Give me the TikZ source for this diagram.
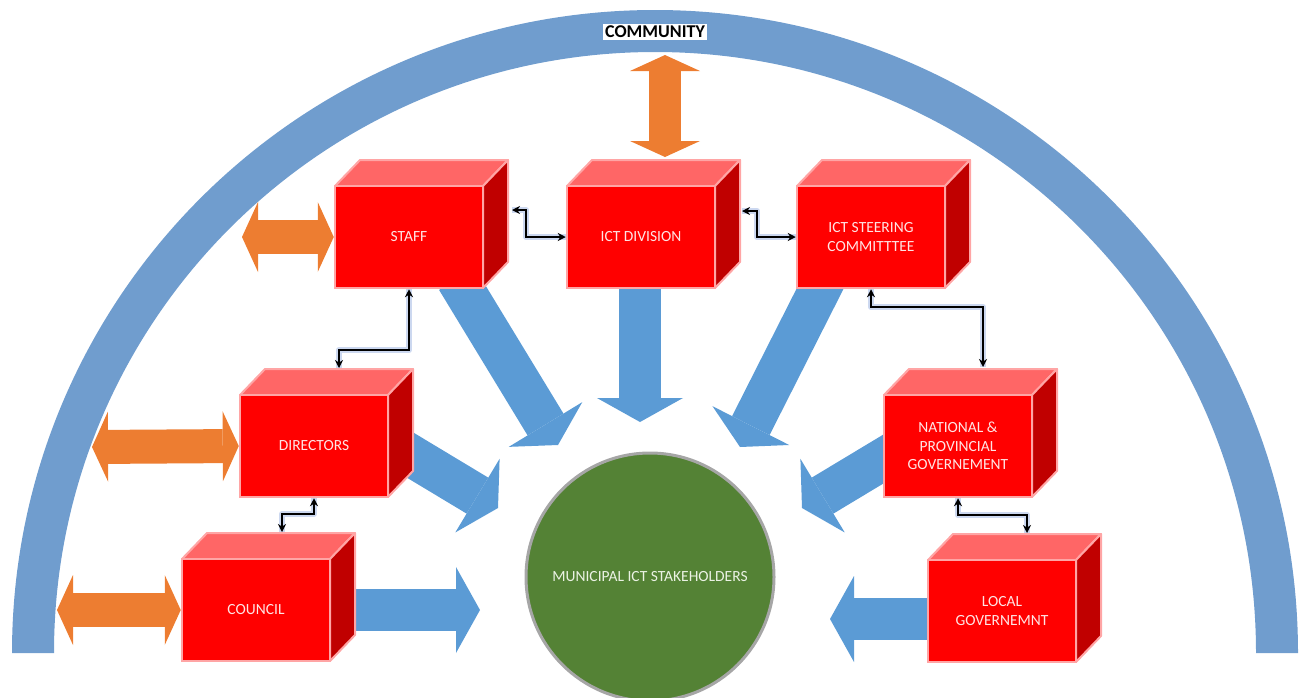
\documentclass[tikz,border=0pt]{standalone}
\usepackage{fontspec}
\setmainfont{Carlito}
\usetikzlibrary{arrows.meta,calc}
\definecolor{arcblue}{RGB}{112,157,206}
\definecolor{fatblue}{RGB}{91,155,213}
\definecolor{orangeA}{RGB}{237,125,49}
\definecolor{boxfront}{RGB}{255,0,0}
\definecolor{boxtop}{RGB}{255,102,102}
\definecolor{boxside}{RGB}{192,0,0}
\definecolor{boxedge}{RGB}{255,165,165}
\definecolor{circfill}{RGB}{84,130,53}
\definecolor{circedge}{RGB}{166,166,166}
\definecolor{glowblue}{RGB}{170,190,230}
\definecolor{boxtext}{RGB}{255,228,228}
\definecolor{circtext}{RGB}{235,242,228}
\tikzset{
 cubefront/.style={fill=boxfront, draw=boxedge, line width=2.5pt, minimum width=148pt, minimum height=102pt, inner sep=0pt, text=boxtext, font=\fontsize{15.5}{18.5}\selectfont, align=center},
 cubetop/.style={fill=boxtop, draw=boxedge, line width=2pt, line join=round},
 cubeside/.style={fill=boxside, draw=boxedge, line width=2pt, line join=round},
 fatarrow/.style={draw=fatblue, line width=42pt, -{Triangle[width=86pt,length=24pt,line width=0pt]}},
 twoway/.style={draw=orangeA, line width=34pt, {Triangle[width=70pt,length=16pt,line width=0pt]}-{Triangle[width=70pt,length=16pt,line width=0pt]}},
 conn/.style={draw=black, line width=1.3pt, {Stealth[length=8pt,width=8pt]}-{Stealth[length=8pt,width=8pt]}},
 connglow/.style={draw=glowblue, line width=6pt, opacity=0.6, line join=round},
}
\newcommand\cubebox[4]{%
 \path[cubetop] (#2,#3) -- ++(25,-26) -- ++(148,0) -- ++(-25,26) -- cycle;
 \path[cubeside] (#2+148,#3) -- ++(25,-26) -- ++(0,102) -- ++(-25,26) -- cycle;
 \node[cubefront] (#1) at (#2+74,#3+51) {#4};
}
\newcommand\linkpath[1]{\draw[connglow] #1; \draw[conn] #1;}
\begin{document}
\begin{tikzpicture}[x=1pt,y=-1pt]
\useasboundingbox (0,0) rectangle (1299,697);
% community arc
\fill[arcblue] (12,653) arc[start angle=180,end angle=0,radius=643pt] -- (1256,653) arc[start angle=0,end angle=180,radius=601pt] -- cycle;
% blue arrows
\coordinate (s1) at (457,279); \coordinate (t1) at (558,445);
\coordinate (s2) at (640,280); \coordinate (t2) at (640,422);
\coordinate (s3) at (825,279); \coordinate (t3) at (740,447);
\coordinate (s4) at (395,446); \coordinate (t4) at (498,508);
\coordinate (s5) at (345,610); \coordinate (t5) at (480,610);
\coordinate (s6) at (905,446); \coordinate (t6) at (802,508);
\coordinate (s7) at (940,619); \coordinate (t7) at (830,619);
\foreach \i in {1,...,7} {\draw[fatarrow] (s\i) -- (t\i);}
% boxes
\cubebox{staff}{335}{186}{STAFF}
\cubebox{ictdiv}{567}{186}{ICT DIVISION}
\cubebox{steer}{797}{186}{ICT STEERING\\COMMITTTEE}
\cubebox{directors}{240}{395}{DIRECTORS}
\cubebox{council}{182}{559}{COUNCIL}
\cubebox{national}{884}{395}{NATIONAL \&\\PROVINCIAL\\GOVERNEMENT}
\cubebox{local}{928}{560}{LOCAL\\GOVERNEMNT}
% hub
\node[circle, minimum size=248pt, fill=circfill, draw=circedge, line width=3pt, text=circtext, font=\fontsize{15.5}{18}\selectfont] (hub) at (650,577) {MUNICIPAL ICT STAKEHOLDERS};
% orange two-way arrows
\coordinate (arcin) at (665,55); \coordinate (ictup) at (665,157);
\coordinate (o1) at (242,237); \coordinate (o2) at (92,447); \coordinate (o3) at (57,610);
\draw[twoway, line width=32pt] (arcin) -- (ictup);
\draw[twoway] (o1) -- (staff.west);
\draw[twoway] (o2) -- (directors.west);
\draw[twoway] (o3) -- (council.west);
% black connectors
\coordinate (staffside) at (512,210);
\coordinate (ictside) at (742,211);
\coordinate (dirtop) at (339,368);
\coordinate (counciltop) at (282,532);
\coordinate (nattop) at (983,367);
\coordinate (localtop) at (1027,533);
\linkpath{(staffside) -| (526,237) -- (ictdiv.west)}
\linkpath{(ictside) -| (757,237) -- (steer.west)}
\linkpath{(steer.south) |- (983,307) -- (nattop)}
\linkpath{(staff.south) |- (339,350) -- (dirtop)}
\linkpath{(directors.south) |- (282,514) -- (counciltop)}
\linkpath{(national.south) |- (1027,515) -- (localtop)}
% community label
\node[fill=white, inner sep=2pt, font=\bfseries\fontsize{18}{20}\selectfont] (community) at (655,32) {COMMUNITY};
\end{tikzpicture}
\end{document}
